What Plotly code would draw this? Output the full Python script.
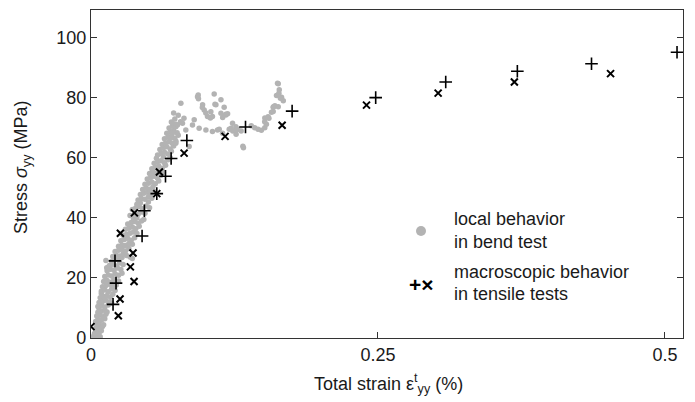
import plotly.graph_objects as go

# ---- data ----
# local behavior in bend test (grey dots): strain (%), stress (MPa)
bend_strain = [
    0.002, 0.004, 0.006, 0.008, 0.003, 0.005, 0.007, 0.009, 0.004, 0.006, 0.008, 0.010, 0.005, 0.007, 0.011,
    0.004, 0.006, 0.009, 0.012, 0.005, 0.008, 0.011, 0.013, 0.006, 0.009, 0.012, 0.014, 0.007,
    0.006, 0.009, 0.012, 0.015, 0.007, 0.010, 0.013, 0.016, 0.018, 0.008, 0.011, 0.014, 0.017, 0.009, 0.019,
    0.009, 0.012, 0.015, 0.018, 0.021, 0.010, 0.013, 0.016, 0.019, 0.022, 0.011, 0.014, 0.017, 0.020, 0.024,
    0.012, 0.015, 0.018, 0.021, 0.024, 0.027, 0.014, 0.017, 0.020, 0.023, 0.026, 0.0137, 0.016, 0.019, 0.022,
    0.025, 0.028, 0.013, 0.018, 0.021, 0.024, 0.027,
    0.019, 0.022, 0.025, 0.028, 0.031, 0.034, 0.021, 0.024, 0.027, 0.030, 0.033, 0.036,
    0.024, 0.027, 0.030, 0.033, 0.036, 0.026, 0.029, 0.032, 0.035, 0.038, 0.028, 0.031, 0.034, 0.037, 0.040,
    0.030, 0.033, 0.036, 0.039, 0.042, 0.032, 0.035, 0.038, 0.041, 0.044, 0.037, 0.040, 0.046,
    0.034, 0.038, 0.041, 0.044, 0.047, 0.036, 0.039, 0.042, 0.045, 0.048, 0.051, 0.040, 0.043, 0.050,
    0.041, 0.044, 0.047, 0.050, 0.053, 0.043, 0.046, 0.049, 0.052, 0.055, 0.045, 0.048, 0.051, 0.054,
    0.047, 0.050, 0.053, 0.056, 0.059, 0.049, 0.052, 0.055, 0.058, 0.061, 0.051, 0.054, 0.057, 0.060, 0.063,
    0.053, 0.056, 0.059, 0.062, 0.065, 0.055, 0.058, 0.061, 0.064, 0.067, 0.057, 0.063, 0.069,
    0.058, 0.061, 0.064, 0.067, 0.070, 0.060, 0.063, 0.066, 0.069, 0.072, 0.062, 0.065, 0.068, 0.071, 0.074,
    0.064, 0.067, 0.070, 0.073, 0.076, 0.066, 0.069, 0.072, 0.075, 0.068, 0.071, 0.074, 0.070, 0.073, 0.076, 0.072,
    0.0783, 0.0928, 0.1073, 0.0972, 0.1088, 0.1132, 0.1175, 0.1044, 0.1058, 0.1015, 0.0986, 0.0899, 0.0884,
    0.0942, 0.1001, 0.1058, 0.1102, 0.1146, 0.0826, 0.0797, 0.0739, 0.0709, 0.0695, 0.0739, 0.0855, 0.1233,
    0.1262, 0.0934, 0.0936, 0.108, 0.1132, 0.119, 0.0970, 0.1000, 0.1040, 0.0810, 0.0780, 0.0753, 0.071,
    0.1117, 0.116, 0.1175, 0.1147, 0.1204, 0.1235, 0.1264, 0.1278, 0.1308, 0.1323, 0.1328, 0.1396, 0.1426,
    0.1455, 0.1484, 0.1514, 0.1528, 0.1514, 0.1543, 0.1572, 0.1587, 0.1602, 0.1631, 0.1587, 0.1631, 0.164,
    0.1616, 0.166, 0.1675, 0.122, 0.1265, 0.1513, 0.155, 0.159, 0.1625, 0.1637, 0.165,
]
bend_stress = [
    0.5, 0.3, 0.8, 0.4, 1.5, 2.0, 1.7, 2.4, 3.2, 3.6, 3.0, 3.8, 4.5, 4.8, 4.4,
    5.5, 6.2, 5.9, 6.4, 7.3, 7.6, 7.1, 7.9, 8.6, 8.9, 9.3, 8.7, 9.8,
    10.5, 10.9, 10.3, 11.0, 11.8, 12.2, 12.6, 12.0, 11.6, 13.4, 13.8, 14.2, 13.6, 14.8, 14.6,
    15.6, 16.0, 15.4, 16.3, 15.8, 17.1, 17.5, 17.9, 17.3, 17.7, 18.8, 19.2, 18.6, 19.5, 19.0,
    20.5, 21.0, 20.7, 21.3, 20.9, 21.6, 22.4, 22.9, 22.6, 23.3, 22.8, 23.4, 24.2, 24.6, 24.0,
    25.0, 24.5, 25.8, 25.6, 26.3, 26.0, 26.8,
    27.2, 27.6, 27.3, 28.0, 27.5, 27.0, 28.8, 29.2, 29.6, 29.0, 29.8, 26.5,
    30.6, 31.0, 30.8, 31.5, 31.2, 32.4, 32.8, 33.2, 32.6, 33.4, 34.2, 34.6, 34.9, 35.3, 34.8,
    36.2, 36.6, 37.0, 36.4, 37.2, 38.0, 38.5, 38.8, 38.2, 39.0, 39.7, 40.0, 39.5,
    40.8, 41.5, 41.2, 42.0, 41.6, 42.8, 43.3, 43.8, 43.1, 44.0, 43.4, 44.6, 45.0, 45.3,
    46.0, 46.5, 46.2, 47.0, 46.6, 47.8, 48.2, 48.6, 48.0, 48.8, 49.5, 50.0, 49.6, 50.4,
    51.2, 51.6, 52.0, 51.4, 52.3, 53.0, 53.5, 53.9, 53.2, 54.2, 54.8, 55.3, 55.0, 55.8, 55.2,
    56.4, 56.9, 57.3, 56.6, 57.6, 58.2, 58.7, 59.1, 58.4, 59.4, 59.9, 60.3, 60.1,
    61.0, 61.5, 61.9, 61.3, 62.2, 62.8, 63.3, 63.7, 63.0, 64.0, 64.5, 65.0, 65.4, 64.8, 65.6,
    66.4, 66.9, 67.3, 66.6, 67.6, 68.2, 68.7, 69.1, 68.4, 70.0, 70.6, 71.2, 72.0, 73.0, 74.2, 75.0,
    78.2, 80.4, 81.3, 77.7, 77.7, 74.9, 74.3, 75.4, 73.8, 73.8, 76.0, 72.7, 71.0,
    69.9, 69.3, 68.8, 69.3, 68.2, 69.3, 71.6, 70.4, 68.2, 66.6, 64.9, 63.8, 71.6,
    70.4, 81.0, 79.7, 77.9, 79.4, 74.7, 76.8, 75.0, 73.3, 73.2, 72.1, 71.0, 71.6,
    69.6, 76.9, 74.6, 73.5, 69.6, 69.0, 67.9, 69.6, 69.0, 63.9, 63.4, 70.7, 70.1,
    69.6, 69.2, 70.1, 71.2, 73.3, 73.7, 75.2, 76.9, 77.4, 77.1, 75.5, 84.7, 82.7,
    80.8, 80.2, 79.1, 69.9, 69.3, 72.1, 73.2, 77.1, 84.9, 81.6, 79.9,
]

# macroscopic behavior in tensile tests
plus_strain = [0.5105, 0.436, 0.3714, 0.309, 0.248, 0.1752, 0.1346, 0.0835, 0.0698, 0.0649,
               0.0573, 0.0465, 0.0445, 0.0209, 0.0218, 0.0192]
plus_stress = [95.2, 91.4, 88.9, 85.3, 80.1, 75.6, 70.3, 65.8, 59.8, 53.9,
               48.1, 42.4, 34.0, 25.7, 18.3, 11.2]
cross_strain = [0.4526, 0.3688, 0.3024, 0.240, 0.1665, 0.1168, 0.0811, 0.0596, 0.0573, 0.0378,
                0.0256, 0.0366, 0.0343, 0.0375, 0.0253, 0.0238, 0.0]
cross_stress = [88.1, 85.3, 81.6, 77.6, 70.9, 67.2, 61.6, 55.3, 48.1, 41.7,
                34.9, 28.3, 23.7, 18.8, 13.0, 7.4, 3.8]

x_ticks = [0, 0.25, 0.5]
x_tick_labels = ["0", "0.25", "0.5"]
y_ticks = [0, 20, 40, 60, 80, 100]

FONT = "Liberation Sans, Arial, Helvetica, sans-serif"
GREY = "#b3b3b3"
TXT = "#1a1a1a"

fig = go.Figure()
fig.add_trace(go.Scatter(x=bend_strain, y=bend_stress, mode="markers",
                         marker=dict(color=GREY, size=5.5, line=dict(width=0)),
                         showlegend=False))
fig.add_trace(go.Scatter(x=plus_strain, y=plus_stress, mode="markers",
                         marker=dict(symbol="cross-thin", size=9, color="black",
                                     line=dict(color="black", width=1.6)),
                         showlegend=False))
fig.add_trace(go.Scatter(x=cross_strain, y=cross_stress, mode="markers",
                         marker=dict(symbol="x-thin", size=7, color="black",
                                     line=dict(color="black", width=2)),
                         showlegend=False))

# plot area: x 91..683 px, y 10..338 px
L, R, T, B = 91, 683, 10, 338
W, H = R - L, B - T

def px(x):
    return (x - L) / W

def py(y):
    return (B - y) / H

legend_lines = [("local behavior", 219), ("in bend test", 241.5),
                ("macroscopic behavior", 271.5), ("in tensile tests", 293.5)]
annotations = []
for txt, yy in legend_lines:
    annotations.append(dict(text=txt, x=px(452), y=py(yy), xref="paper", yref="paper",
                            xanchor="left", yanchor="middle", showarrow=False,
                            font=dict(family=FONT, size=18, color=TXT)))
annotations.append(dict(text="<b>+×</b>", x=px(421), y=py(284), xref="paper", yref="paper",
                        xanchor="center", yanchor="middle", showarrow=False,
                        font=dict(family=FONT, size=21, color="black")))
# axis titles
annotations.append(dict(text="Total strain ε<sup>t</sup><sub>yy</sub> (%)", x=px(388), y=py(384),
                        xref="paper", yref="paper", xanchor="center", yanchor="middle",
                        showarrow=False, font=dict(family=FONT, size=18, color=TXT)))
annotations.append(dict(text="Stress <i>σ</i><sub>yy</sub> (MPa)", x=px(22), y=py(168),
                        xref="paper", yref="paper", xanchor="center", yanchor="middle",
                        textangle=-90, showarrow=False, font=dict(family=FONT, size=18, color=TXT)))

shapes = [dict(type="circle", xref="paper", yref="paper",
               x0=px(416), x1=px(426), y0=py(236), y1=py(226),
               fillcolor=GREY, line=dict(width=0))]

fig.update_layout(
    width=695, height=402,
    margin=dict(l=L, r=695 - R, t=T, b=402 - B),
    paper_bgcolor="white", plot_bgcolor="white",
    font=dict(family=FONT, size=18, color=TXT),
    annotations=annotations, shapes=shapes,
    xaxis=dict(range=[0, 0.5157], tickvals=x_ticks, ticktext=x_tick_labels, automargin=False,
               ticks="inside", ticklen=6, tickcolor="#333", showgrid=False, zeroline=False,
               showline=True, linecolor="#333", linewidth=1.3, mirror=True,
               tickfont=dict(size=18)),
    yaxis=dict(range=[0, 109.3], tickvals=y_ticks, automargin=False,
               ticks="inside", ticklen=6, tickcolor="#333", showgrid=False, zeroline=False,
               showline=True, linecolor="#333", linewidth=1.3, mirror="ticks",
               tickfont=dict(size=18)),
)

fig.write_html("out.html", config={"displayModeBar": False},
               post_script="document.body.style.margin='0';")
